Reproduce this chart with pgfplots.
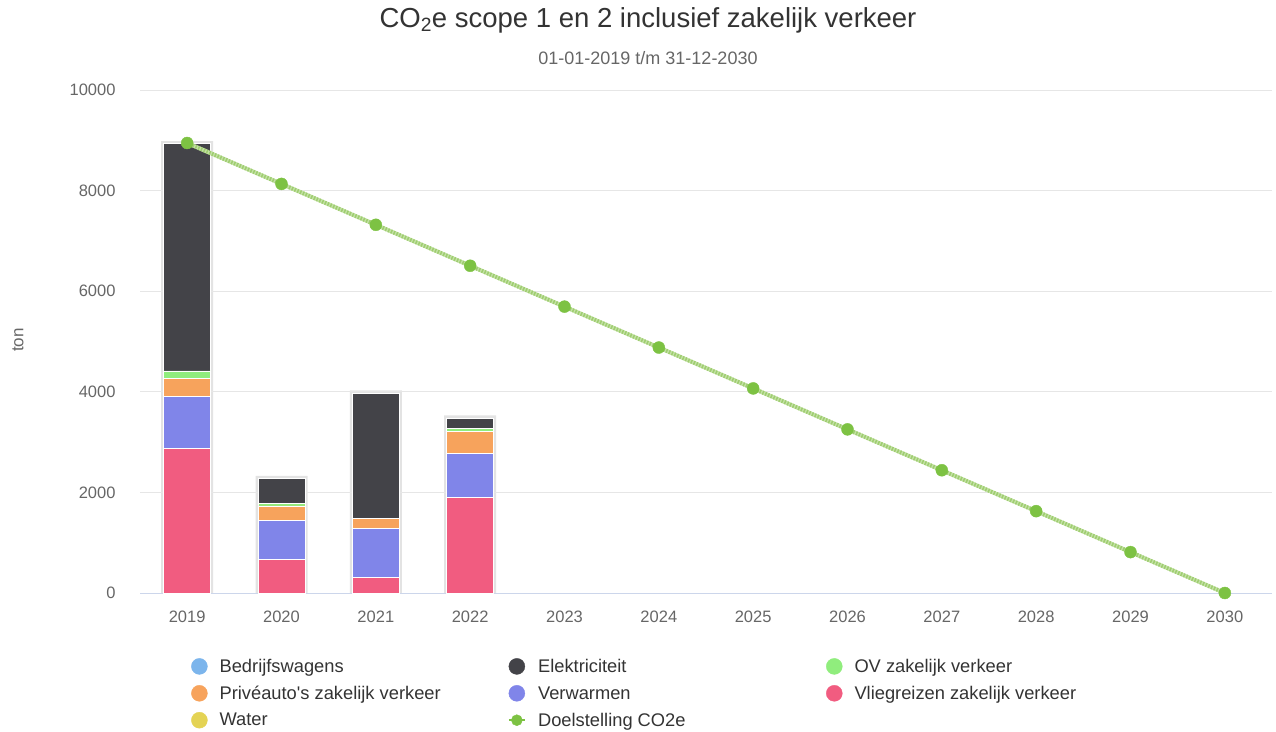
\documentclass[border=0pt]{standalone}
\usepackage{fontspec}
\setmainfont{Liberation Sans}
\usepackage{pgfplots}
\pgfplotsset{compat=1.18}
\definecolor{cBedr}{HTML}{7CB5EC}
\definecolor{cElek}{HTML}{434348}
\definecolor{cOV}{HTML}{90ED7D}
\definecolor{cPriv}{HTML}{F7A35C}
\definecolor{cVerw}{HTML}{8085E9}
\definecolor{cVlieg}{HTML}{F15C80}
\definecolor{cWater}{HTML}{E4D354}
\definecolor{cDoel}{HTML}{7DC243}
\definecolor{cDoelLine}{HTML}{C4E2A6}
\definecolor{cDoelDash}{HTML}{9FCD70}
\definecolor{cGrid}{HTML}{E6E6E6}
\definecolor{cBase}{HTML}{CCD6EB}
\definecolor{cTick}{HTML}{666666}
\definecolor{cTitle}{HTML}{333333}
\pgfplotsset{
  circleg/.style={legend image code/.code={\fill[#1] (8pt,0pt) circle (8pt);}},
}
\newcommand{\legtxt}[1]{\makebox[288pt][l]{\rule[-4pt]{0pt}{17pt}#1}}
\begin{document}
\begin{tikzpicture}
\useasboundingbox (0,0) rectangle (1276pt,731pt);
\node[text=cTitle, font=\fontsize{27.5}{32}\selectfont] at (648pt,711pt) {CO\textsubscript{2}e scope 1 en 2 inclusief zakelijk verkeer};
\node[text=cTick, font=\fontsize{18}{22}\selectfont] at (648pt,673pt) {01-01-2019 t/m 31-12-2030};
\node[text=cTick, rotate=90, font=\fontsize{17}{20}\selectfont] at (18pt,391pt) {ton};
% shadow of the bars
\begin{axis}[
  at={(140pt,138pt)}, anchor=south west,
  scale only axis, width=1132pt, height=503pt,
  xmin=-0.5, xmax=11.5, ymin=0, ymax=10000,
  hide axis, clip=false, ybar, bar width=52pt,
]
\addplot[fill=black!11, draw=none] coordinates {(0,8985) (1,2330) (2,4030) (3,3530)};
\end{axis}
\begin{axis}[
  at={(140pt,138pt)}, anchor=south west,
  scale only axis, width=1132pt, height=503pt,
  ybar stacked, bar width=47pt,
  xmin=-0.5, xmax=11.5, ymin=0, ymax=10000,
  xtick={0,...,11},
  xticklabels={2019,2020,2021,2022,2023,2024,2025,2026,2027,2028,2029,2030},
  ytick={0,2000,4000,6000,8000,10000},
  /pgf/number format/assume math mode=true,
  /pgf/number format/1000 sep={},
  scaled y ticks=false,
  major tick length=0pt,
  ymajorgrids, grid style={cGrid, line width=0.8pt},
  axis x line*=bottom, axis y line*=left,
  x axis line style={cBase, line width=1pt, -},
  y axis line style={draw=none},
  tick label style={text=cTick, font=\fontsize{16.5}{20}\selectfont},
  yticklabel style={xshift=-21pt},
  xticklabel style={yshift=-14pt},
  legend columns=3,
  legend cell align=left,
  legend style={at={(axis description cs:0,0)}, anchor=north west, xshift=51pt, yshift=-65pt,
    draw=none, fill=none, inner sep=0pt, font=\fontsize{18.3}{21}\selectfont, text=cTitle,
    row sep=10.5pt,
    nodes={inner sep=0pt},
    /tikz/every odd column/.append style={column sep=12pt},
    /tikz/every even column/.append style={column sep=0pt}},
]
\addlegendimage{circleg=cBedr}
\addlegendentry{\legtxt{Bedrijfswagens}}
\addlegendimage{circleg=cElek}
\addlegendentry{\legtxt{Elektriciteit}}
\addlegendimage{circleg=cOV}
\addlegendentry{\legtxt{OV zakelijk verkeer}}
\addlegendimage{circleg=cPriv}
\addlegendentry{\legtxt{Privéauto\textquotesingle s zakelijk verkeer}}
\addlegendimage{circleg=cVerw}
\addlegendentry{\legtxt{Verwarmen}}
\addlegendimage{circleg=cVlieg}
\addlegendentry{\legtxt{Vliegreizen zakelijk verkeer}}
\addlegendimage{circleg=cWater}
\addlegendentry{\legtxt{Water}}
\addlegendimage{legend image code/.code={\draw[cDoel, line width=2.5pt] (0pt,0pt) -- (16pt,0pt); \fill[cDoel] (8pt,0pt) circle (5.5pt);}}
\addlegendentry{\legtxt{Doelstelling CO2e}}
% stacked bars: bottom to top
\addplot[forget plot, fill=cWater, draw=white, line width=0.8pt] coordinates {(0,0) (1,0) (2,0) (3,0)};
\addplot[forget plot, fill=cVlieg, draw=white, line width=0.8pt] coordinates {(0,2880) (1,660) (2,310) (3,1895)};
\addplot[forget plot, fill=cVerw, draw=white, line width=0.8pt] coordinates {(0,1020) (1,790) (2,975) (3,880)};
\addplot[forget plot, fill=cPriv, draw=white, line width=0.8pt] coordinates {(0,365) (1,280) (2,200) (3,430)};
\addplot[forget plot, fill=cOV, draw=white, line width=0.8pt] coordinates {(0,150) (1,50) (2,0) (3,65)};
\addplot[forget plot, fill=cElek, draw=white, line width=0.8pt] coordinates {(0,4515) (1,490) (2,2475) (3,205)};
\addplot[forget plot, fill=cBedr, draw=white, line width=0.8pt] coordinates {(0,0) (1,0) (2,0) (3,0)};
\end{axis}
\begin{axis}[
  at={(140pt,138pt)}, anchor=south west,
  scale only axis, width=1132pt, height=503pt,
  xmin=-0.5, xmax=11.5, ymin=0, ymax=10000,
  hide axis, clip=false,
]
\addplot[cDoelLine, line width=4pt, no markers] coordinates {
(0,8946) (1,8133) (2,7320) (3,6506) (4,5693) (5,4880) (6,4067) (7,3253) (8,2440) (9,1627) (10,813) (11,0)};
\addplot[cDoelDash, line width=4pt, dash pattern=on 1.5pt off 1.5pt, no markers] coordinates {
(0,8946) (1,8133) (2,7320) (3,6506) (4,5693) (5,4880) (6,4067) (7,3253) (8,2440) (9,1627) (10,813) (11,0)};
\addplot[only marks, mark=*, mark size=6pt, mark options={cDoel}] coordinates {
(0,8946) (1,8133) (2,7320) (3,6506) (4,5693) (5,4880) (6,4067) (7,3253) (8,2440) (9,1627) (10,813) (11,0)};
\end{axis}
\end{tikzpicture}
\end{document}
